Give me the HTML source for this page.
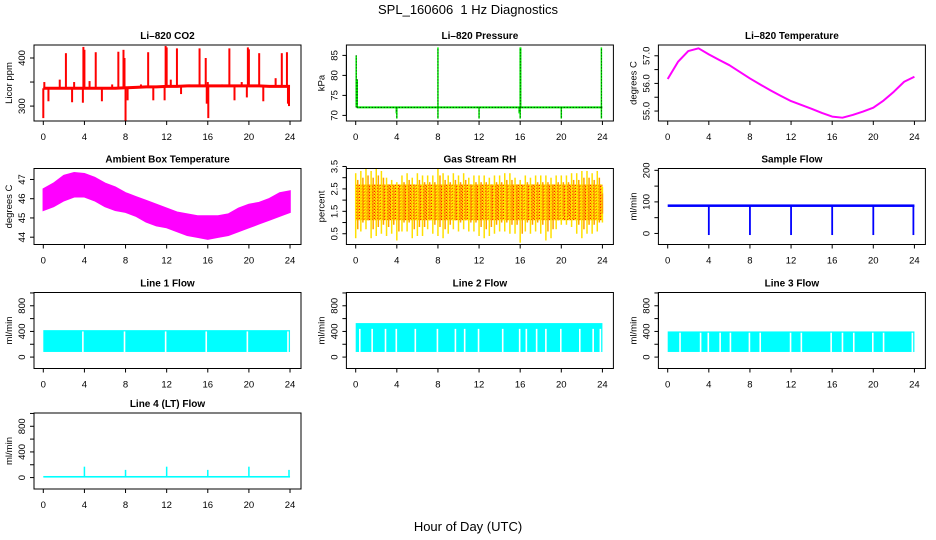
<!DOCTYPE html>
<html><head><meta charset="utf-8"><style>
html,body{margin:0;padding:0;background:#fff;}
svg{display:block;font-family:"Liberation Sans",Arial,sans-serif;}
</style></head><body>
<svg id="c" width="936" height="540" viewBox="0 0 936 540" xmlns="http://www.w3.org/2000/svg">
<defs>
<pattern id="rhpat" width="3" height="3" patternUnits="userSpaceOnUse">
<rect width="3" height="3" fill="#ffb000"/><rect x="0" y="0" width="1" height="1" fill="#ff2000"/><rect x="1" y="1" width="1" height="1" fill="#ffff00"/><rect x="2" y="2" width="1" height="1" fill="#ff2000"/><rect x="2" y="0" width="1" height="1" fill="#ffff00"/>
</pattern>
</defs>
<text x="468" y="14" text-anchor="middle" font-size="13" style="white-space:pre">SPL_160606  1 Hz Diagnostics</text>
<text x="468" y="531" text-anchor="middle" font-size="13">Hour of Day (UTC)</text>
</svg>
<script>
// ---- data ----
const hours = [0,1,2,3,4,5,6,7,8,9,10,11,12,13,14,15,16,17,18,19,20,21,22,23,24];
const xTicks = [0,4,8,12,16,20,24];
const co2Base = [337,337,337,337,337,337,337,337,338,339,340,340,341,341,342,342,342,342,342,342,342,342,341,341,341];
const co2SpikeHours = [2.2,3.9,4.0,5.1,7.3,7.8,10.2,11.9,12.0,13.0,15.2,15.8,18.1,19.9,20.0,21.0,23.2,23.7,0.1,1.6,3.0,4.5,6.7,7.9,9.5,12.4,14.2,16.0,17.4,19.3,22.6,0.0,0.5,2.8,3.85,5.7,8.0,8.2,10.7,11.8,13.4,15.9,16.05,18.6,19.8,21.4,23.8,23.9];
const co2SpikeValues = [410,423,417,412,413,417,412,425,422,420,420,400,420,422,418,410,410,412,350,355,350,352,345,400,345,355,345,350,345,350,358,275,310,308,307,310,270,312,312,312,325,305,275,312,318,310,305,300];
const presSpikeHours = [0.05,0.15,8.0,16.0,16.05,23.9,4.0,8.0,12.0,16.0,20.0,23.9,3.95,15.9];
const presSpikeValues = [85,79,87,87,87,87,69.2,69.2,69.2,69.2,69.2,69.2,70.5,70.5];
const presBase = 72;
const tempValues = [56.16,56.78,57.17,57.27,57.05,56.85,56.66,56.42,56.18,55.96,55.75,55.55,55.36,55.22,55.08,54.93,54.8,54.76,54.86,54.98,55.12,55.38,55.7,56.06,56.24];
const ambLow = [45.4,45.6,45.9,46.1,46.1,45.9,45.6,45.4,45.3,45.1,44.8,44.6,44.5,44.3,44.1,44.0,43.9,44.0,44.1,44.3,44.5,44.7,44.9,45.1,45.3];
const ambHigh = [46.5,46.8,47.2,47.35,47.3,47.1,46.8,46.6,46.3,46.1,45.9,45.7,45.5,45.3,45.2,45.1,45.1,45.1,45.2,45.5,45.7,45.8,46.0,46.3,46.4];
const rhHalfHours = [0,0.5,1,1.5,2,2.5,3,3.5,4,4.5,5,5.5,6,6.5,7,7.5,8,8.5,9,9.5,10,10.5,11,11.5,12,12.5,13,13.5,14,14.5,15,15.5,16,16.5,17,17.5,18,18.5,19,19.5,20,20.5,21,21.5,22,22.5,23,23.5,24];
const rhMax = [3.2,3.3,3.4,3.3,3.4,3.3,3.0,2.9,2.8,3.1,3.2,3.0,3.2,3.1,3.1,3.1,3.4,3.2,3.1,3.2,3.1,3.2,3.0,3.1,3.1,3.1,3.0,3.1,3.1,3.2,3.2,3.0,2.9,3.1,3.0,3.1,3.1,3.1,3.0,3.1,3.1,3.1,3.2,3.2,3.3,3.3,3.2,3.3,2.6];
const rhMin = [0.3,0.6,0.7,0.3,0.4,0.5,0.4,0.5,0.2,0.6,0.6,0.3,0.4,0.4,0.7,0.5,0.4,0.3,0.5,0.7,0.6,0.7,0.6,0.6,0.4,0.3,0.4,0.5,0.6,0.6,0.5,0.5,0.1,0.6,0.5,0.6,0.5,0.2,0.3,0.7,0.9,0.9,0.8,0.5,0.3,0.5,0.5,0.6,1.0];
const rhBandLow = 1.1, rhBandHigh = 2.7;
const sampleBase = 88;
const sampleDipHours = [4,8,12,16,20,23.9];
const sampleDipValues = [-5,-5,-5,-5,-5,-5];
const line1High = 420, line2High = 530, line3High = 400, flowLow = 80;
const line1Gaps = [3.85,7.9,11.9,15.85,19.85,23.8];
const line2Gaps = [0.4,1.6,2.9,3.95,5.8,7.95,9.7,10.6,11.95,14.3,15.95,16.6,17.6,18.5,19.95,21.8,23.1,23.8];
const line3Gaps = [1.2,3.2,3.95,5.1,6.1,7.95,9.0,11.95,13.0,15.9,17.0,18.1,19.95,21.0,23.8];
const line4Base = 15;
const line4SpikeHours = [4,8,12,16,20,23.9];
const line4SpikeValues = [170,120,170,120,170,120];

// ---- layout ----
const NS = "http://www.w3.org/2000/svg";
const svg = document.getElementById('c');
const colX = [0,312.4,624.4];
const rowY = [45,168.5,292.5,413];
const BOXH = 76;
function mk(tag, attrs, parent){ const e=document.createElementNS(NS,tag); for(const k in attrs) e.setAttribute(k,attrs[k]); (parent||svg).appendChild(e); return e; }

function panel(cfg){
  const cx = colX[cfg.col], top = rowY[cfg.row], bot = top+BOXH;
  const left = 34+cx, right = 301+cx;
  const g = mk('g',{});
  
  
  const x = h => 43.3 + cx + h*10.28;
  const y = v => top + (cfg.vtop - v)/(cfg.vtop - cfg.vbot)*BOXH;
  const plot = mk('g',{},g);
  
  
  const box = mk('rect',{x:left,y:top,width:right-left,height:BOXH,fill:'none',stroke:'#000','stroke-width':1},g);
  
  
  const ttl = mk('text',{x:(left+right)/2,y:top-6,'text-anchor':'middle','font-size':10,'font-weight':'bold'},g);
  ttl.textContent = cfg.title;
  
  
  const xa = mk('g',{},g);
  
  
  mk('line',{x1:x(xTicks[0]),x2:x(xTicks[xTicks.length-1]),y1:bot,y2:bot,stroke:'#000'},xa);
  xTicks.forEach(t=>{
    mk('line',{x1:x(t),x2:x(t),y1:bot,y2:bot+4,stroke:'#000'},xa);
    const tl = mk('text',{x:x(t),y:bot+19,'text-anchor':'middle','font-size':9.5},xa);
    tl.textContent = t;
    
    
  });
  const ya = mk('g',{},g);
  
  
  const yt = cfg.yTicks;
  mk('line',{x1:left,x2:left,y1:y(yt[0]),y2:y(yt[yt.length-1]),stroke:'#000'},ya);
  yt.forEach((t,i)=>{
    mk('line',{x1:left-4,x2:left,y1:y(t),y2:y(t),stroke:'#000'},ya);
    if(cfg.yLabels[i]!==''){
      const tl = mk('text',{x:left-9,y:y(t),'text-anchor':'middle','font-size':9.5,transform:`rotate(-90 ${left-9} ${y(t)})`},ya);
      tl.textContent = cfg.yLabels[i];
      
      
    }
  });
  const yl = mk('text',{x:left-22,y:(top+bot)/2,'text-anchor':'middle','font-size':9.5,transform:`rotate(-90 ${left-22} ${(top+bot)/2})`},ya);
  yl.textContent = cfg.ylab;
  
  
  return {x,y,plot};
}

// CO2
(function(){
  const p = panel({name:'co2-panel',col:0,row:0,title:'Li\u2013820 CO2',ylab:'Licor ppm',vtop:427,vbot:269,yTicks:[300,350,400],yLabels:['300','','400']});
  co2SpikeHours.forEach((h,i)=>{
    const b = co2Base[Math.round(h)];
    const l = mk('line',{x1:p.x(h),x2:p.x(h),y1:p.y(b),y2:p.y(co2SpikeValues[i]),stroke:'#ff0000','stroke-width':2},p.plot);
    
    
  });
  const pl = mk('polyline',{points:hours.map((h,i)=>p.x(h)+','+p.y(co2Base[i])).join(' '),fill:'none',stroke:'#ff0000','stroke-width':3},p.plot);
  
  
})();

// Pressure
(function(){
  const p = panel({name:'pressure-panel',col:1,row:0,title:'Li\u2013820 Pressure',ylab:'kPa',vtop:87.6,vbot:68.6,yTicks:[70,75,80,85],yLabels:['70','75','80','85']});
  const bl = mk('line',{x1:p.x(0.1),x2:p.x(24),y1:p.y(presBase),y2:p.y(presBase),stroke:'#00ee00','stroke-width':2},p.plot);
  
  
  const bd = mk('line',{x1:p.x(0.1),x2:p.x(24),y1:p.y(presBase),y2:p.y(presBase),stroke:'#000','stroke-width':1,'stroke-dasharray':'1 2'},p.plot);
  
  
  presSpikeHours.forEach((h,i)=>{
    const l = mk('line',{x1:p.x(h),x2:p.x(h),y1:p.y(presBase),y2:p.y(presSpikeValues[i]),stroke:'#00ee00','stroke-width':1.5},p.plot);
    
    
    const d = mk('line',{x1:p.x(h),x2:p.x(h),y1:p.y(presBase),y2:p.y(presSpikeValues[i]),stroke:'#000','stroke-width':0.8,'stroke-dasharray':'1 2'},p.plot);
    
    
  });
})();

// Li-820 temperature
(function(){
  const p = panel({name:'li820-temperature-panel',col:2,row:0,title:'Li\u2013820 Temperature',ylab:'degrees C',vtop:57.39,vbot:54.64,yTicks:[55,55.5,56,56.5,57],yLabels:['55.0','','56.0','','57.0']});
  const pl = mk('polyline',{points:hours.map((h,i)=>p.x(h)+','+p.y(tempValues[i])).join(' '),fill:'none',stroke:'#ff00ff','stroke-width':2,'stroke-linejoin':'round'},p.plot);
  
  
})();

// Ambient box temperature
(function(){
  const p = panel({name:'ambient-temperature-panel',col:0,row:1,title:'Ambient Box Temperature',ylab:'degrees C',vtop:47.57,vbot:43.62,yTicks:[44,45,46,47],yLabels:['44','45','46','47']});
  const pts = hours.map((h,i)=>p.x(h)+','+p.y(ambHigh[i])).concat(hours.slice().reverse().map((h,j)=>p.x(h)+','+p.y(ambLow[hours.length-1-j])));
  const pg = mk('polygon',{points:pts.join(' '),fill:'#ff00ff',stroke:'#ff00ff','stroke-width':1.5},p.plot);
  
  
})();

// Gas stream RH
(function(){
  const p = panel({name:'rh-panel',col:1,row:1,title:'Gas Stream RH',ylab:'percent',vtop:3.41,vbot:0.02,yTicks:[0.5,1,1.5,2,2.5,3,3.5],yLabels:['0.5','','1.5','','2.5','','3.5']});
  const band = mk('rect',{x:p.x(0),y:p.y(rhBandHigh),width:p.x(24)-p.x(0),height:p.y(rhBandLow)-p.y(rhBandHigh),fill:'url(#rhpat)'},p.plot);
  
  
  rhHalfHours.forEach((h,i)=>{
    [0,0.2].forEach(o=>{
      const hh = Math.min(24,h+o);
      const l = mk('line',{x1:p.x(hh),x2:p.x(hh),y1:p.y(rhMin[i]+o*2),y2:p.y(rhMax[i]-o*1.5),stroke:(o?'#ffa000':'#ffe000'),'stroke-width':1.5},p.plot);
      
      
    });
  });
})();

// Sample flow
(function(){
  const p = panel({name:'sample-flow-panel',col:2,row:1,title:'Sample Flow',ylab:'ml/min',vtop:205.8,vbot:-35,yTicks:[0,50,100,150,200],yLabels:['0','','100','','200']});
  const b = mk('rect',{x:p.x(0),y:p.y(sampleBase+4),width:p.x(24)-p.x(0),height:p.y(sampleBase-4)-p.y(sampleBase+4),fill:'#0000ff'},p.plot);
  
  
  sampleDipHours.forEach((h,i)=>{
    const l = mk('line',{x1:p.x(h),x2:p.x(h),y1:p.y(sampleBase),y2:p.y(sampleDipValues[i]),stroke:'#0000ff','stroke-width':1.8},p.plot);
    
    
  });
})();

// Line flows
function flowPanel(name,col,row,title,high,gaps){
  const p = panel({name:name,col:col,row:row,title:title,ylab:'ml/min',vtop:1007,vbot:-178,yTicks:[0,200,400,600,800,1000],yLabels:['0','','400','','800','']});
  const b = mk('rect',{x:p.x(0),y:p.y(high),width:p.x(24)-p.x(0),height:p.y(flowLow)-p.y(high),fill:'#00ffff'},p.plot);
  
  
  gaps.forEach(h=>{
    const l = mk('line',{x1:p.x(h),x2:p.x(h),y1:p.y(flowLow),y2:p.y(Math.min(high-20,440)),stroke:'#fff','stroke-width':1.6},p.plot);
    
    
  });
  return p;
}
flowPanel('line1-flow-panel',0,2,'Line 1 Flow',line1High,line1Gaps);
flowPanel('line2-flow-panel',1,2,'Line 2 Flow',line2High,line2Gaps);
flowPanel('line3-flow-panel',2,2,'Line 3 Flow',line3High,line3Gaps);

// Line 4
(function(){
  const p = panel({name:'line4-flow-panel',col:0,row:3,title:'Line 4 (LT) Flow',ylab:'ml/min',vtop:1007,vbot:-178,yTicks:[0,200,400,600,800,1000],yLabels:['0','','400','','800','']});
  const b = mk('rect',{x:p.x(0),y:p.y(line4Base+10),width:p.x(24)-p.x(0),height:p.y(line4Base-15)-p.y(line4Base+10),fill:'#00ffff'},p.plot);
  
  
  line4SpikeHours.forEach((h,i)=>{
    const l = mk('line',{x1:p.x(h),x2:p.x(h),y1:p.y(line4Base),y2:p.y(line4SpikeValues[i]),stroke:'#00ffff','stroke-width':1.5},p.plot);
    
    
  });
})();
</script>
</body></html>
